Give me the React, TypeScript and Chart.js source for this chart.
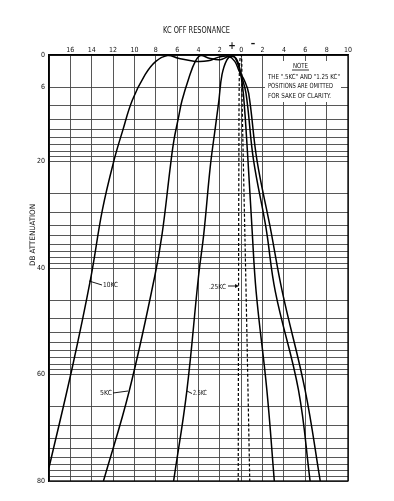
import React, { useEffect, useRef } from "react";
import { Chart, registerables } from "chart.js";

Chart.register(...registerables);

// kc off resonance: positive = "+" side (left), negative = "−" side (right)
const X_TICKS = [-10, -8, -6, -4, -2, 0, 2, 4, 6, 8, 10, 12, 14, 16, 18];
// dB gridlines within each 20 dB band (voltage ratios 1..9)
const DB_BAND = [0, 6.02, 9.54, 12.04, 13.98, 15.56, 16.9, 18.06, 19.08];
const DB_BANDS = [0, 20, 40, 60];
const DB_LABELS = [0, 6, 20, 40, 60, 80];

const KC10_X = [18.0, 15.8, 14.1, 13.0, 11.9, 11.1, 10.2, 9.0, 8.0, 6.9, 5.9, 4.3, 3.1, 2.1, 1.2, 0.6, 0.2, -0.3, -0.7, -1.47, -2.7, -3.85, -5.98, -7.4];
const KC10_DB = [77.5, 58.5, 42.0, 29.1, 19.7, 14.2, 8.5, 3.7, 1.2, 0.1, 0.6, 1.2, 1.1, 0.4, 0.25, 1.2, 3.0, 4.8, 7.2, 19.7, 32.2, 44.5, 62.9, 80];

const KC5_X = [12.9, 10.5, 8.1, 7.4, 6.64, 6.3, 5.9, 5.55, 4.9, 4.3, 3.8, 3.0, 2.0, 1.2, 0.7, 0.35, 0.0, -0.45, -1.15, -2.3, -3.2, -5.36, -6.45];
const KC5_DB = [80, 63.2, 41.6, 33.5, 21.0, 16.0, 12.0, 8.6, 4.3, 1.2, 0.1, 0.6, 0.9, 0.3, 0.2, 1.5, 3.8, 7.2, 19.7, 32.2, 44.5, 62.9, 80];

const KC25_X = [6.33, 5.1, 4.0, 3.5, 2.9, 2.45, 2.1, 1.8, 1.34, 0.87, 0.4, 0.1, -0.2, -0.63, -1.0, -1.4, -2.4, -3.1];
const KC25_DB = [80, 63.2, 41.6, 33.5, 21.0, 14.0, 8.7, 3.7, 0.9, 0.25, 0.9, 3.0, 7.2, 19.7, 32.2, 44.5, 62.9, 80];

const KC025_X = [0.28, 0.25, 0.22, 0.18, 0.1, 0.0, -0.05, -0.07, -0.25, -0.45, -0.8];
const KC025_DB = [80, 44, 20, 4, 0.5, 0, 1, 7, 25, 44, 80];

const TITLE = "KC OFF RESONANCE";
const Y_TITLE = "DB ATTENUATION";
const NOTE_TITLE = "NOTE";
const NOTE_LINES = ['THE ".5KC" AND "1.25 KC"', "POSITIONS ARE OMITTED", "FOR SAKE OF CLARITY."];

const FONT = "'DejaVu Sans Condensed', 'Liberation Sans Narrow', 'DejaVu Sans', sans-serif";

const zip = (xs: number[], ys: number[]) => xs.map((x, i) => ({ x, y: ys[i] }));

const yGridValues = (): number[] => {
  const v: number[] = [];
  DB_BANDS.forEach((b) => DB_BAND.forEach((d) => v.push(+(b + d).toFixed(2))));
  v.push(80);
  return v;
};

// draw text squeezed horizontally to a given width, starting at x (left)
const fitText = (ctx: any, text: string, x: number, y: number, width: number, size: number) => {
  ctx.save();
  ctx.font = `${size}px ${FONT}`;
  ctx.textAlign = "left";
  ctx.textBaseline = "middle";
  const w = ctx.measureText(text).width;
  ctx.translate(x, y);
  ctx.scale(width / w, 1);
  ctx.fillText(text, 0, 0);
  ctx.restore();
};

const decor = {
  id: "decor",
  beforeDatasetsDraw(chart: any) {
    const ctx = chart.ctx;
    ctx.save();
    ctx.fillStyle = "#ffffff";
    ctx.fillRect(265, 61, 76, 41);
    ctx.restore();
  },
  afterDraw(chart: any) {
    const ctx = chart.ctx;
    const a = chart.chartArea;
    ctx.save();
    ctx.strokeStyle = "#000";
    ctx.lineWidth = 1.3;
    ctx.strokeRect(a.left, a.top, a.right - a.left, a.bottom - a.top);

    ctx.fillStyle = "#111";
    fitText(ctx, TITLE, 163, 31, 67, 9.5);
    ctx.textBaseline = "middle";
    ctx.textAlign = "center";
    ctx.font = `bold 10px ${FONT}`;
    ctx.fillText("+", 232, 46);
    ctx.fillText("\u2013", 253, 44);

    ctx.save();
    ctx.translate(33, 235);
    ctx.rotate(-Math.PI / 2);
    fitText(ctx, Y_TITLE, -31, 0, 62, 7.5);
    ctx.restore();

    // note
    fitText(ctx, NOTE_TITLE, 293, 66, 15, 7);
    ctx.lineWidth = 0.8;
    ctx.beginPath();
    ctx.moveTo(292, 70);
    ctx.lineTo(309, 70);
    ctx.stroke();
    const noteW = [72, 65, 63];
    NOTE_LINES.forEach((t, i) => fitText(ctx, t, 268, 77 + i * 9.5, noteW[i], 7));

    // curve labels
    ctx.lineWidth = 0.9;
    const lead = (x1: number, y1: number, x2: number, y2: number) => {
      ctx.beginPath();
      ctx.moveTo(x1, y1);
      ctx.lineTo(x2, y2);
      ctx.stroke();
    };
    lead(89, 281, 102, 285);
    fitText(ctx, "10KC", 103, 285, 15, 7);
    lead(113, 393, 128, 391);
    fitText(ctx, "5KC", 100, 393.5, 12, 7);
    lead(187, 391, 192, 393.5);
    fitText(ctx, "2.5KC", 193, 393.5, 14, 7);
    lead(228, 286, 237, 286);
    ctx.beginPath();
    ctx.moveTo(239, 286);
    ctx.lineTo(235, 284);
    ctx.lineTo(235, 288);
    ctx.closePath();
    ctx.fill();
    fitText(ctx, ".25KC", 209, 287, 17, 7);
    ctx.restore();
  },
};

export default function App() {
  const ref = useRef<HTMLCanvasElement>(null);
  useEffect(() => {
    document.body.style.margin = "0";
    const gridVals = yGridValues();
    const line = (data: any[], dashed = false) => ({
      data,
      borderColor: "#000",
      borderWidth: dashed ? 1.2 : 1.5,
      borderDash: dashed ? [3, 2] : [],
      pointRadius: 0,
      fill: false,
      tension: 0.4,
    });
    const chart = new Chart(ref.current!, {
      type: "line",
      data: {
        datasets: [
          line(zip(KC10_X, KC10_DB)),
          line(zip(KC5_X, KC5_DB)),
          line(zip(KC25_X, KC25_DB)),
          line(zip(KC025_X, KC025_DB), true),
        ],
      },
      options: {
        animation: false,
        responsive: false,
        devicePixelRatio: 1,
        layout: { padding: { top: 0, left: 0, right: 46, bottom: 20 } },
        plugins: { legend: { display: false }, tooltip: { enabled: false } },
        scales: {
          x: {
            type: "linear",
            position: "top",
            min: -10,
            max: 18,
            reverse: true,
            afterBuildTicks: (s: any) => {
              s.ticks = X_TICKS.map((value) => ({ value }));
            },
            afterFit: (s: any) => {
              s.height = 55;
            },
            ticks: {
              autoSkip: false,
              maxRotation: 0,
              padding: 1,
              color: "#111",
              font: { family: FONT, size: 7 },
              callback: (v: any) => (v === 18 ? "" : String(Math.abs(v))),
            },
            grid: { color: "#444", lineWidth: 0.9, drawTicks: false },
            border: { color: "#000", width: 1.3 },
          },
          y: {
            type: "linear",
            min: 0,
            max: 80,
            reverse: true,
            afterBuildTicks: (s: any) => {
              s.ticks = gridVals.map((value) => ({ value }));
            },
            afterFit: (s: any) => {
              s.width = 49;
            },
            ticks: {
              autoSkip: false,
              padding: 4,
              color: "#111",
              font: { family: FONT, size: 7 },
              callback: (v: any) => {
                const m = DB_LABELS.find((l) => Math.abs(l - v) < 0.1);
                return m === undefined ? "" : String(m);
              },
            },
            grid: { color: "#444", lineWidth: 0.9, drawTicks: false },
            border: { color: "#000", width: 1.3 },
          },
        },
      },
      plugins: [decor],
    });
    return () => chart.destroy();
  }, []);
  return (
    <div style={{ position: "absolute", left: 0, top: 0, width: 394, height: 501, background: "#fff" }}>
      <canvas ref={ref} width={394} height={501} />
    </div>
  );
}
